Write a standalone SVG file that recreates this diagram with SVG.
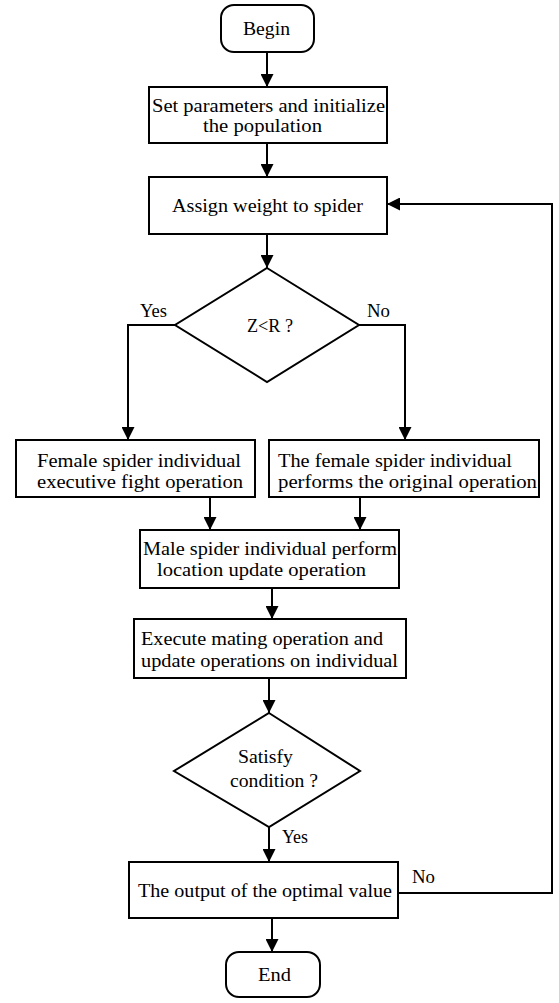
<svg xmlns="http://www.w3.org/2000/svg" width="559" height="1003" viewBox="0 0 559 1003">
<defs>
<marker id="ah" markerUnits="userSpaceOnUse" markerWidth="13" markerHeight="13" refX="13" refY="6.5" orient="auto">
<path d="M0,0 L13,6.5 L0,13 z" fill="#000"/>
</marker>
<style>
.n{fill:#fff;stroke:#000;stroke-width:2}
text{font-size:19px;fill:#000}
.e{fill:none;stroke:#000;stroke-width:2;marker-end:url(#ah)}
</style>
</defs>
<rect width="559" height="1003" fill="#fff"/>
<g font-family="Liberation Serif, Times New Roman, DejaVu Serif, serif">
<g id="connectors">
<line class="e" x1="267" y1="52" x2="267" y2="87"/>
<line class="e" x1="267" y1="143" x2="267" y2="177"/>
<line class="e" x1="267" y1="234" x2="267" y2="268"/>
<polyline class="e" points="175,325 128,325 128,440"/>
<polyline class="e" points="359,325 405,325 405,440"/>
<line class="e" x1="210" y1="497" x2="210" y2="530"/>
<line class="e" x1="360" y1="497" x2="360" y2="530"/>
<line class="e" x1="272" y1="588" x2="272" y2="619"/>
<line class="e" x1="269" y1="678" x2="269" y2="713"/>
<line class="e" x1="269" y1="827" x2="269" y2="862"/>
<line class="e" x1="272" y1="918" x2="272" y2="952"/>
<polyline class="e" points="398,893 552,893 552,204 387,204"/>
<text x="140" y="317" textLength="27" lengthAdjust="spacingAndGlyphs">Yes</text>
<text x="367" y="317" textLength="23" lengthAdjust="spacingAndGlyphs">No</text>
<text x="282" y="843" textLength="26" lengthAdjust="spacingAndGlyphs">Yes</text>
<text x="412" y="883" textLength="23" lengthAdjust="spacingAndGlyphs">No</text>
</g>
<g id="begin">
<rect class="n" x="221" y="5" width="93" height="47" rx="13"/>
<text x="243" y="35" textLength="47" lengthAdjust="spacingAndGlyphs">Begin</text>
</g>
<g id="init">
<rect class="n" x="149" y="87" width="238" height="56"/>
<text x="152" y="112" textLength="233" lengthAdjust="spacingAndGlyphs">Set parameters and initialize</text>
<text x="203" y="132" textLength="119" lengthAdjust="spacingAndGlyphs">the population</text>
</g>
<g id="assign">
<rect class="n" x="149" y="177" width="238" height="57"/>
<text x="172" y="212" textLength="191" lengthAdjust="spacingAndGlyphs">Assign weight to spider</text>
</g>
<g id="zr">
<polygon class="n" points="267,268 359,325 267,382 175,325"/>
<text x="247" y="332" textLength="46" lengthAdjust="spacingAndGlyphs">Z&lt;R ?</text>
</g>
<g id="female-fight">
<rect class="n" x="16" y="440" width="239" height="57"/>
<text x="37" y="467" textLength="204" lengthAdjust="spacingAndGlyphs">Female spider individual</text>
<text x="37" y="488" textLength="206" lengthAdjust="spacingAndGlyphs">executive fight operation</text>
</g>
<g id="female-original">
<rect class="n" x="269" y="440" width="270" height="57"/>
<text x="278" y="467" textLength="234" lengthAdjust="spacingAndGlyphs">The female spider individual</text>
<text x="278" y="488" textLength="259" lengthAdjust="spacingAndGlyphs">performs the original operation</text>
</g>
<g id="male">
<rect class="n" x="140" y="530" width="259" height="58"/>
<text x="143" y="555" textLength="254" lengthAdjust="spacingAndGlyphs">Male spider individual perform</text>
<text x="157" y="576" textLength="209" lengthAdjust="spacingAndGlyphs">location update operation</text>
</g>
<g id="mating">
<rect class="n" x="134" y="619" width="272" height="59"/>
<text x="141" y="645" textLength="242" lengthAdjust="spacingAndGlyphs">Execute mating operation and</text>
<text x="141" y="667" textLength="257" lengthAdjust="spacingAndGlyphs">update operations on individual</text>
</g>
<g id="satisfy">
<polygon class="n" points="269,713 360,771 269,827 174,771"/>
<text x="238" y="763" textLength="55" lengthAdjust="spacingAndGlyphs">Satisfy</text>
<text x="230" y="787" textLength="88" lengthAdjust="spacingAndGlyphs">condition ?</text>
</g>
<g id="output">
<rect class="n" x="129" y="862" width="269" height="56"/>
<text x="138" y="897" textLength="254" lengthAdjust="spacingAndGlyphs">The output of the optimal value</text>
</g>
<g id="end">
<rect class="n" x="226" y="952" width="94" height="45" rx="13"/>
<text x="258" y="981" textLength="33" lengthAdjust="spacingAndGlyphs">End</text>
</g>
</g>
</svg>
